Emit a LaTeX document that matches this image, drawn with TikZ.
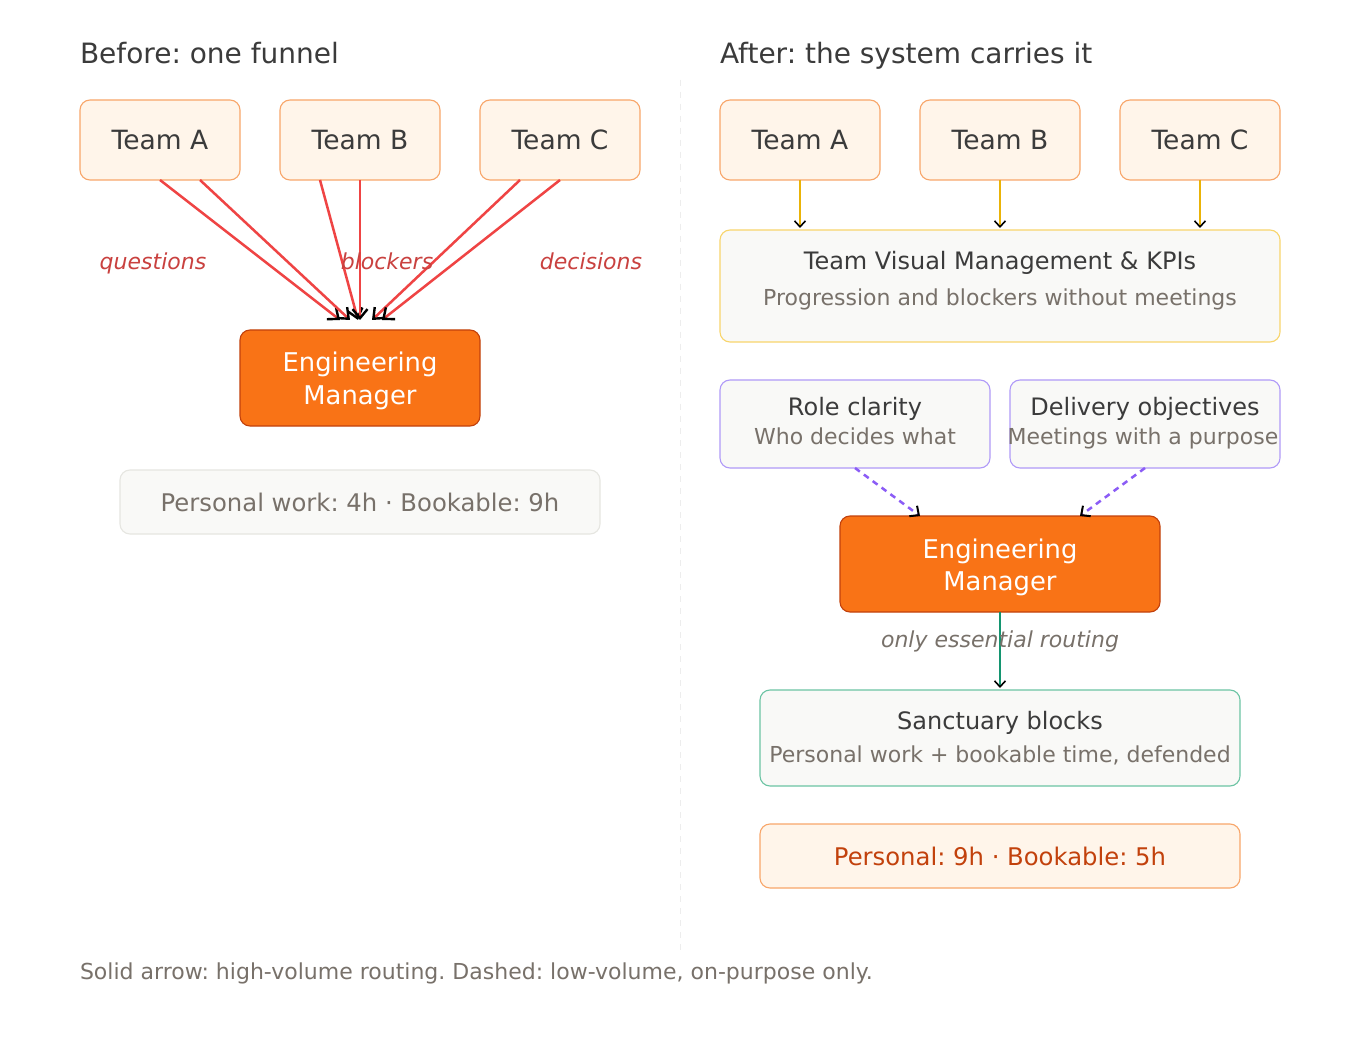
\documentclass[tikz,border=0pt]{standalone}
\usepackage{fontspec}
\setmainfont{DejaVu Sans}
\usetikzlibrary{arrows.meta}
\definecolor{teamfill}{HTML}{FFF5EA}
\definecolor{teamline}{HTML}{F8A66A}
\definecolor{ink}{HTML}{3B3B3B}
\definecolor{soft}{HTML}{78716A}
\definecolor{redline}{HTML}{EF4444}
\definecolor{redlabel}{HTML}{C9413F}
\definecolor{emfill}{HTML}{F97316}
\definecolor{emline}{HTML}{C2410C}
\definecolor{paper}{HTML}{F9F9F7}
\definecolor{paperline}{HTML}{E6E6E1}
\definecolor{yelline}{HTML}{EAB308}
\definecolor{yelbox}{HTML}{F8D56C}
\definecolor{purbox}{HTML}{B09AF8}
\definecolor{purline}{HTML}{8B5CF6}
\definecolor{grnline}{HTML}{149570}
\definecolor{grnbox}{HTML}{6CC4A4}
\definecolor{divider}{HTML}{EDEDED}
\newcommand\myfs[1]{\fontsize{#1}{#1}\selectfont}
\frenchspacing
\begin{document}
\begin{tikzpicture}[x=1pt,y=-1pt,
  every node/.style={inner sep=0pt, outer sep=0pt},
  box/.style={draw, rounded corners=10pt, line width=1.1pt},
  teambox/.style={box, fill=teamfill, draw=teamline, minimum width=160pt, minimum height=80pt, text=ink, font=\myfs{26.5}},
  embox/.style={box, fill=emfill, draw=emline, minimum width=#1, minimum height=96pt},
  papbox/.style={box, fill=paper},
  ttl/.style={anchor=base west, text=ink, font=\myfs{28}},
  head/.style={anchor=base, text=ink, font=\myfs{24}},
  sub/.style={anchor=base, text=soft, font=\myfs{22}},
  emtext/.style={anchor=base, text=white, font=\myfs{25.8}},
  redlab/.style={anchor=base, text=redlabel, font=\myfs{22}\itshape},
  redarrow/.style={draw=redline, line width=2.5pt, -{Straight Barb[color=black,length=9pt,width=15pt,line width=2.4pt]}},
  thinarrow/.style={line width=1.6pt, -{Straight Barb[color=black,length=6pt,width=11pt,line width=1.6pt]}},
  dasharrow/.style={draw=purline, line width=2.5pt, dash pattern=on 6pt off 5pt, -{Straight Barb[color=black,length=7pt,width=13pt,line width=2pt]}}
]
\useasboundingbox (0,0) rectangle (1360,1040);
\fill[white] (0,0) rectangle (1360,1040);

% divider
\draw[divider, line width=1pt, dash pattern=on 6pt off 6pt] (680,80) -- (680,950);

% ---------- Left: Before ----------
\node[ttl] (tl) at (80,64) {Before: one funnel};
\node[teambox] (la) at (160,140) {Team A};
\node[teambox] (lb) at (360,140) {Team B};
\node[teambox] (lc) at (560,140) {Team C};
\node[embox=240pt] (eml) at (360,378) {};
\node[emtext] (eml1) at (360,372) {Engineering};
\node[emtext] (eml2) at (360,404) {Manager};

\draw[redarrow] ([xshift=0pt]la.south) -- ([xshift=-20pt,yshift=10pt]eml.north);
\draw[redarrow] ([xshift=40pt]la.south) -- ([xshift=-10pt,yshift=10pt]eml.north);
\draw[redarrow] ([xshift=-40pt]lb.south) -- ([xshift=-2pt,yshift=10pt]eml.north);
\draw[redarrow] ([xshift=0pt]lb.south) -- ([xshift=0pt,yshift=10pt]eml.north);
\draw[redarrow] ([xshift=-40pt]lc.south) -- ([xshift=12pt,yshift=10pt]eml.north);
\draw[redarrow] ([xshift=0pt]lc.south) -- ([xshift=22pt,yshift=10pt]eml.north);

\node[redlab] (q) at (153,270) {questions};
\node[redlab] (bl) at (387,270) {blockers};
\node[redlab] (de) at (591,270) {decisions};

\node[papbox, draw=paperline, minimum width=480pt, minimum height=64pt, text=soft, font=\myfs{24.3}] (pwl) at (360,502) {Personal work: 4h · Bookable: 9h};

% ---------- Right: After ----------
\node[ttl] (tr) at (720,64) {After: the system carries it};
\node[teambox] (ra) at (800,140) {Team A};
\node[teambox] (rb) at (1000,140) {Team B};
\node[teambox] (rc) at (1200,140) {Team C};

\node[papbox, draw=yelbox, minimum width=560pt, minimum height=112pt] (tvm) at (1000,286) {};
\node[head] (tvm1) at (1000,270) {Team Visual Management \& KPIs};
\node[sub] (tvm2) at (1000,306) {Progression and blockers without meetings};

\draw[thinarrow, draw=yelline] (ra.south) -- ([yshift=2pt]ra.south |- tvm.north);
\draw[thinarrow, draw=yelline] (rb.south) -- ([yshift=2pt]rb.south |- tvm.north);
\draw[thinarrow, draw=yelline] (rc.south) -- ([yshift=2pt]rc.south |- tvm.north);

\node[papbox, draw=purbox, minimum width=270pt, minimum height=88pt] (rol) at (855,424) {};
\node[head] (rol1) at (855,415) {Role clarity};
\node[sub] (rol2) at (855,444) {Who decides what};
\node[papbox, draw=purbox, minimum width=270pt, minimum height=88pt] (del) at (1145,424) {};
\node[head] (del1) at (1145,415) {Delivery objectives};
\node[sub] (del2) at (1143,444) {Meetings with a purpose};

\node[embox=320pt] (emr) at (1000,564) {};
\node[emtext] (emr1) at (1000,558) {Engineering};
\node[emtext] (emr2) at (1000,590) {Manager};

\draw[dasharrow] (rol.south) -- ([xshift=-80pt]emr.north);
\draw[dasharrow] (del.south) -- ([xshift=80pt]emr.north);

\node[papbox, draw=grnbox, minimum width=480pt, minimum height=96pt] (san) at (1000,738) {};
\node[head] (san1) at (1000,729) {Sanctuary blocks};
\node[sub] (san2) at (1000,762) {Personal work + bookable time, defended};

\draw[thinarrow, draw=grnline, line width=2pt] (emr.south) -- ([yshift=2pt]san.north);
\node[anchor=base, text=soft, font=\myfs{22}\itshape] (ess) at (1000,647) {only essential routing};

\node[box, fill=teamfill, draw=teamline, minimum width=480pt, minimum height=64pt, text=emline, font=\myfs{24.3}] (pwr) at (1000,856) {Personal: 9h · Bookable: 5h};

% footnote
\node[anchor=base west, text=soft, font=\myfs{22}] (foot) at (80,979) {Solid arrow: high-volume routing. Dashed: low-volume, on-purpose only.};
\end{tikzpicture}
\end{document}
